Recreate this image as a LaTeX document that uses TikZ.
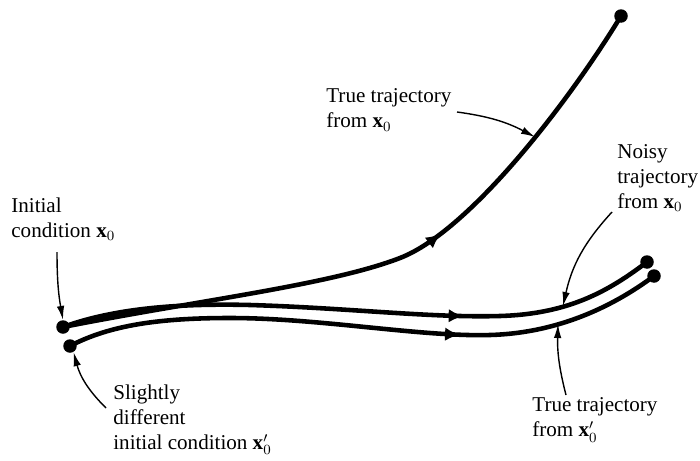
\documentclass[tikz,border=0pt]{standalone}
\usepackage{fontspec}
\setmainfont{Liberation Serif}
\usetikzlibrary{arrows.meta, decorations.markings}

\begin{document}
\begin{tikzpicture}[
  x=0.02cm, y=-0.02cm,
  font=\fontsize{12}{14.2}\selectfont,
  traj/.style={line width=2.6pt, line cap=round},
  flow/.style={postaction={decorate}, decoration={markings, mark=at position #1 with {\arrow{Latex[length=0.3cm,width=0.27cm]}}}},
  dot/.style={circle, fill=black, inner sep=0pt, minimum size=0.27cm},
  lbl/.style={anchor=west, align=left, inner sep=0pt},
  pointer/.style={-{Latex[length=0.28cm,width=0.15cm]}, line width=0.8pt},
]
  \useasboundingbox (0,0) rectangle (700,460);

  % Start and end points
  \coordinate (x0) at (63,327);
  \coordinate (x0p) at (70,346);
  \coordinate (endtrue) at (621,16);
  \coordinate (endnoisy) at (647,262);
  \coordinate (endtruep) at (654,276);

  % Where the pointers meet the trajectories
  \coordinate (hittrue) at (535,137);
  \coordinate (hitnoisy) at (563,306);
  \coordinate (hittruep) at (558,324);

  % Trajectories
  \draw[traj, flow=0.58] (x0) .. controls (200,300) and (330,285) .. (400,258)
    .. controls (470,231) and (570,100) .. (endtrue);
  \draw[traj, flow=0.673] (x0) .. controls (110,310) and (170,303) .. (250,305)
    .. controls (350,308) and (430,318) .. (500,316)
    .. controls (570,314) and (610,290) .. (endnoisy);
  \draw[traj, flow=0.656] (x0p) .. controls (110,325) and (160,318) .. (230,318)
    .. controls (320,318) and (420,337) .. (490,335)
    .. controls (560,333) and (615,305) .. (endtruep);

  \node[dot] (x0dot) at (x0) {};
  \node[dot] (x0pdot) at (x0p) {};
  \node[dot] (truedot) at (endtrue) {};
  \node[dot] (noisydot) at (endnoisy) {};
  \node[dot] (truepdot) at (endtruep) {};

  % Labels
  \node[lbl] (lblinit) at (11,219) {Initial\\condition $\mathbf{x}_0$};
  \node[lbl] (lbldiff) at (113,420) {Slightly\\different\\initial condition $\mathbf{x}'_0$};
  \node[lbl] (lbltrue) at (326,110) {True trajectory\\from $\mathbf{x}_0$};
  \node[lbl] (lblnoisy) at (617,178) {Noisy\\trajectory\\from $\mathbf{x}_0$};
  \node[lbl] (lbltruep) at (532,420) {True trajectory\\from $\mathbf{x}'_0$};

  % Pointers
  \coordinate (tailinit) at (57,252);
  \coordinate (taildiff) at (106,408);
  \coordinate (tailtrue) at (457,112);
  \coordinate (tailnoisy) at (612,212);
  \coordinate (tailtruep) at (566,395);

  \draw[pointer] (tailinit) to[bend right=5] (x0dot.north);
  \draw[pointer] (taildiff) to[bend left=15] (x0pdot.-60);
  \draw[pointer] (tailtrue) to[bend left=10] (hittrue);
  \draw[pointer] (tailnoisy) to[bend right=15] (hitnoisy);
  \draw[pointer] (tailtruep) to[bend left=8] (hittruep);

\end{tikzpicture}
\end{document}
